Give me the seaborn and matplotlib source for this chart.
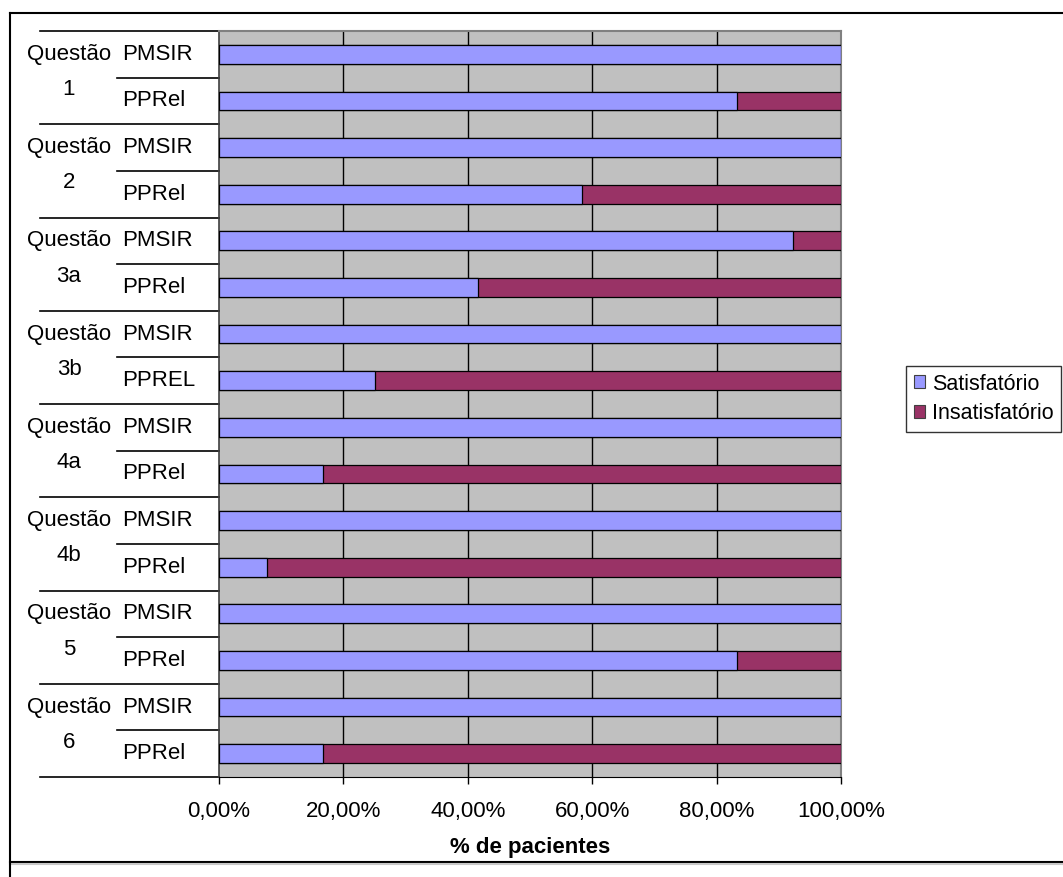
import matplotlib
matplotlib.use("Agg")
import matplotlib.pyplot as plt
from matplotlib.lines import Line2D
from matplotlib.patches import Patch
from matplotlib.ticker import FuncFormatter
import seaborn as sns
import pandas as pd
import numpy as np

# ---- data ----
groups = ["Questão\n1", "Questão\n2", "Questão\n3a", "Questão\n3b",
          "Questão\n4a", "Questão\n4b", "Questão\n5", "Questão\n6"]
subgroups = [["PMSIR", "PPRel"], ["PMSIR", "PPRel"], ["PMSIR", "PPRel"], ["PMSIR", "PPREL"],
             ["PMSIR", "PPRel"], ["PMSIR", "PPRel"], ["PMSIR", "PPRel"], ["PMSIR", "PPRel"]]
satisfatorio = [100.0, 83.33, 100.0, 58.33, 92.31, 41.67, 100.0, 25.0,
                100.0, 16.67, 100.0, 7.69, 100.0, 83.33, 100.0, 16.67]
insatisfatorio = [0.0, 16.67, 0.0, 41.67, 7.69, 58.33, 0.0, 75.0,
                  0.0, 83.33, 0.0, 92.31, 0.0, 16.67, 0.0, 83.33]
series_names = ["Satisfatório", "Insatisfatório"]
colors = ["#9999FF", "#993366"]
xticks = [0, 20, 40, 60, 80, 100]

rows = []
for gi, g in enumerate(groups):
    for s in subgroups[gi]:
        rows.append(f"{gi}|{s}")
df = pd.DataFrame({"row": rows,
                   "sat": satisfatorio,
                   "ins": insatisfatorio})
df["total"] = df["sat"] + df["ins"]

plt.rcParams["font.family"] = ["Liberation Sans", "DejaVu Sans"]

W, H = 1063, 877
fig = plt.figure(figsize=(W / 100, H / 100), dpi=100)
x0, x1, y0, y1 = 219, 841, 31, 777
ax = fig.add_axes([x0 / W, 1 - y1 / H, (x1 - x0) / W, (y1 - y0) / H])
ax.set_facecolor("#C0C0C0")

sns.barplot(data=df, y="row", x="total", orient="h", color=colors[1],
            width=0.4, edgecolor="black", linewidth=0.9, saturation=1, ax=ax, zorder=3)
sns.barplot(data=df, y="row", x="sat", orient="h", color=colors[0],
            width=0.4, edgecolor="black", linewidth=0.9, saturation=1, ax=ax, zorder=4)

n = len(rows)
ax.set_ylim(n - 0.5, -0.5)
ax.set_xlim(0, 100)
ax.set_xticks(xticks)
ax.xaxis.set_major_formatter(FuncFormatter(lambda v, p: f"{v:.2f}".replace(".", ",") + "%"))
ax.tick_params(axis="x", direction="out", length=5, width=1, colors="black",
               labelsize=16, pad=12)
ax.set_yticks([])
ax.set_ylabel("")
ax.set_xlabel("% de pacientes", fontsize=16, fontweight="bold", labelpad=11)
for v in xticks[1:-1]:
    ax.axvline(v, color="black", lw=1, zorder=1)
for side in ["top", "right"]:
    ax.spines[side].set_color("#808080")
    ax.spines[side].set_linewidth(1.5)
ax.spines["left"].set_color("#404040")
ax.spines["bottom"].set_color("black")
ax.spines["left"].set_linewidth(1.2)

# hierarchical category labels
trans = ax.get_yaxis_transform()
gx_line = (40 - x0) / (x1 - x0)
sx_line = (117 - x0) / (x1 - x0)
gx_text = (69 - x0) / (x1 - x0)
sx_text = (122 - x0) / (x1 - x0)
idx = 0
for gi, g in enumerate(groups):
    start = idx
    ax.plot([gx_line, 0], [start - 0.5, start - 0.5], color="black", lw=1.2,
            transform=trans, clip_on=False)
    for si, s in enumerate(subgroups[gi]):
        ax.text(sx_text, idx, s, transform=trans, ha="left", va="center", fontsize=16)
        if si > 0:
            ax.plot([sx_line, 0], [idx - 0.5, idx - 0.5], color="black", lw=1.2,
                    transform=trans, clip_on=False)
        idx += 1
    center = (start + idx - 1) / 2 - 0.12
    ax.text(gx_text, center, g, transform=trans, ha="center", va="center",
            fontsize=16, linespacing=1.9)
ax.plot([gx_line, 0], [n - 0.5, n - 0.5], color="black", lw=1.2,
        transform=trans, clip_on=False)

# legend
handles = [Patch(facecolor=c, edgecolor="#404040", linewidth=0.8) for c in colors]
leg = fig.legend(handles, series_names, loc="upper left",
                 bbox_to_anchor=(906 / W, 1 - 366 / H), frameon=True, fancybox=False,
                 fontsize=15.5, handlelength=0.55, handleheight=0.55, handletextpad=0.3,
                 borderpad=0.35, labelspacing=0.4, borderaxespad=0)
leg.get_frame().set_edgecolor("black")
leg.get_frame().set_linewidth(1.0)

# outer border
fig.add_artist(Line2D([10 / W, 1], [1 - 13 / H, 1 - 13 / H], color="black", lw=1.5))
fig.add_artist(Line2D([10 / W, 1], [1 - 862 / H, 1 - 862 / H], color="black", lw=1.5))
fig.add_artist(Line2D([10 / W, 1], [1 - 864 / H, 1 - 864 / H], color="#C8C8C8", lw=1.5))
fig.add_artist(Line2D([10 / W, 10 / W], [0, 1 - 13 / H], color="black", lw=1.5))

fig.savefig("out.png", dpi=100)
